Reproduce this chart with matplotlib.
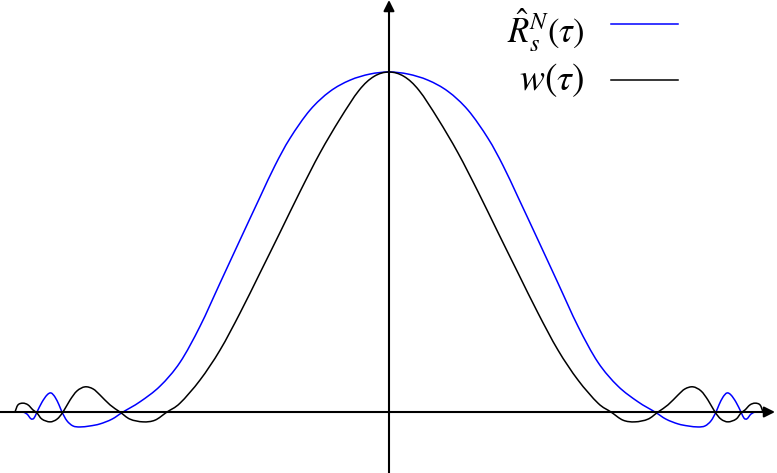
import numpy as np
import matplotlib
matplotlib.use('Agg')
import matplotlib.pyplot as plt
from matplotlib.path import Path
from matplotlib.patches import PathPatch

plt.rcParams['mathtext.fontset'] = 'stix'

# lag tau (one side, curves are even) and values
tau_w = [0, 15, 30, 49, 69, 89, 109, 129, 149, 169, 189, 209, 222,
         234, 246, 259, 269, 279, 289, 296, 304, 312, 319, 326,
         332, 339, 347, 352, 356, 361, 366, 371, 374]
w = [1.000, 0.987, 0.946, 0.862, 0.762, 0.648, 0.528, 0.409, 0.291, 0.182,
     0.094, 0.026, 0.0,
     -0.024, -0.029, -0.021, 0.0, 0.021, 0.050, 0.068, 0.074, 0.062, 0.035, 0.0,
     -0.021, -0.029, -0.021, -0.003, 0.006, 0.021, 0.026, 0.021, 0.0]

tau_r = [0, 19, 39, 59, 79, 99, 114, 129, 149, 169, 189, 209, 229, 249,
         266, 277, 289, 299, 309, 316, 322, 327, 330, 334, 338, 342, 347,
         352, 355, 358, 362, 366]
r = [1.000, 0.994, 0.976, 0.943, 0.888, 0.805, 0.725, 0.632, 0.506, 0.379,
     0.252, 0.146, 0.076, 0.030,
     0.0, -0.021, -0.035, -0.041, -0.044, -0.041, -0.026, 0.0, 0.021, 0.044,
     0.056, 0.050, 0.029,
     0.0, -0.018, -0.020, -0.006, 0.0]


def mirror(t, v):
    t = np.asarray(t, float)
    v = np.asarray(v, float)
    return np.concatenate([-t[::-1], t[1:]]), np.concatenate([v[::-1], v[1:]])


def smooth_path(t, v):
    # cubic bezier pieces through the read points (catmull-rom tangents)
    p = np.column_stack([t, v])
    ext = np.vstack([p[0], p, p[-1]])
    verts = [p[0]]
    codes = [Path.MOVETO]
    for i in range(len(p) - 1):
        p0, p1, p2, p3 = ext[i], ext[i + 1], ext[i + 2], ext[i + 3]
        verts += [p1 + (p2 - p0) / 6, p2 - (p3 - p1) / 6, p2]
        codes += [Path.CURVE4] * 3
    return Path(verts, codes)


fig = plt.figure(figsize=(7.77, 4.73), dpi=100)
ax = fig.add_axes([0, 0, 1, 1])
ax.set_xlim(-389, 388)
ax.set_ylim(-0.1794, 1.2118)
ax.axis('off')

# axes with arrows
ax.annotate('', xy=(386, 0), xytext=(-389, 0),
            arrowprops=dict(arrowstyle='-|>', color='black', lw=1.5,
                            mutation_scale=16, shrinkA=0, shrinkB=0))
ax.annotate('', xy=(0, 1.2118), xytext=(0, -0.1794),
            arrowprops=dict(arrowstyle='-|>', color='black', lw=1.5,
                            mutation_scale=16, shrinkA=0, shrinkB=0))

t, v = mirror(tau_r, r)
ax.add_patch(PathPatch(smooth_path(t, v), fill=False, edgecolor='#0000ff', lw=1.1))
t, v = mirror(tau_w, w)
ax.add_patch(PathPatch(smooth_path(t, v), fill=False, edgecolor='black', lw=1.1))

# legend drawn by hand (text left of line)
fig.text(585 / 777, 1 - 30 / 473, r'$\hat{R}_s^N(\tau)$', fontsize=25,
         ha='right', va='center')
fig.text(585 / 777, 1 - 80 / 473, r'$w(\tau)$', fontsize=27,
         ha='right', va='center')
fig.add_artist(plt.Line2D([611 / 777, 678 / 777], [1 - 24 / 473, 1 - 24 / 473],
                          color='#0000ff', lw=1.1))
fig.add_artist(plt.Line2D([611 / 777, 678 / 777], [1 - 80 / 473, 1 - 80 / 473],
                          color='black', lw=1.1))

fig.savefig('out.png', dpi=100)
